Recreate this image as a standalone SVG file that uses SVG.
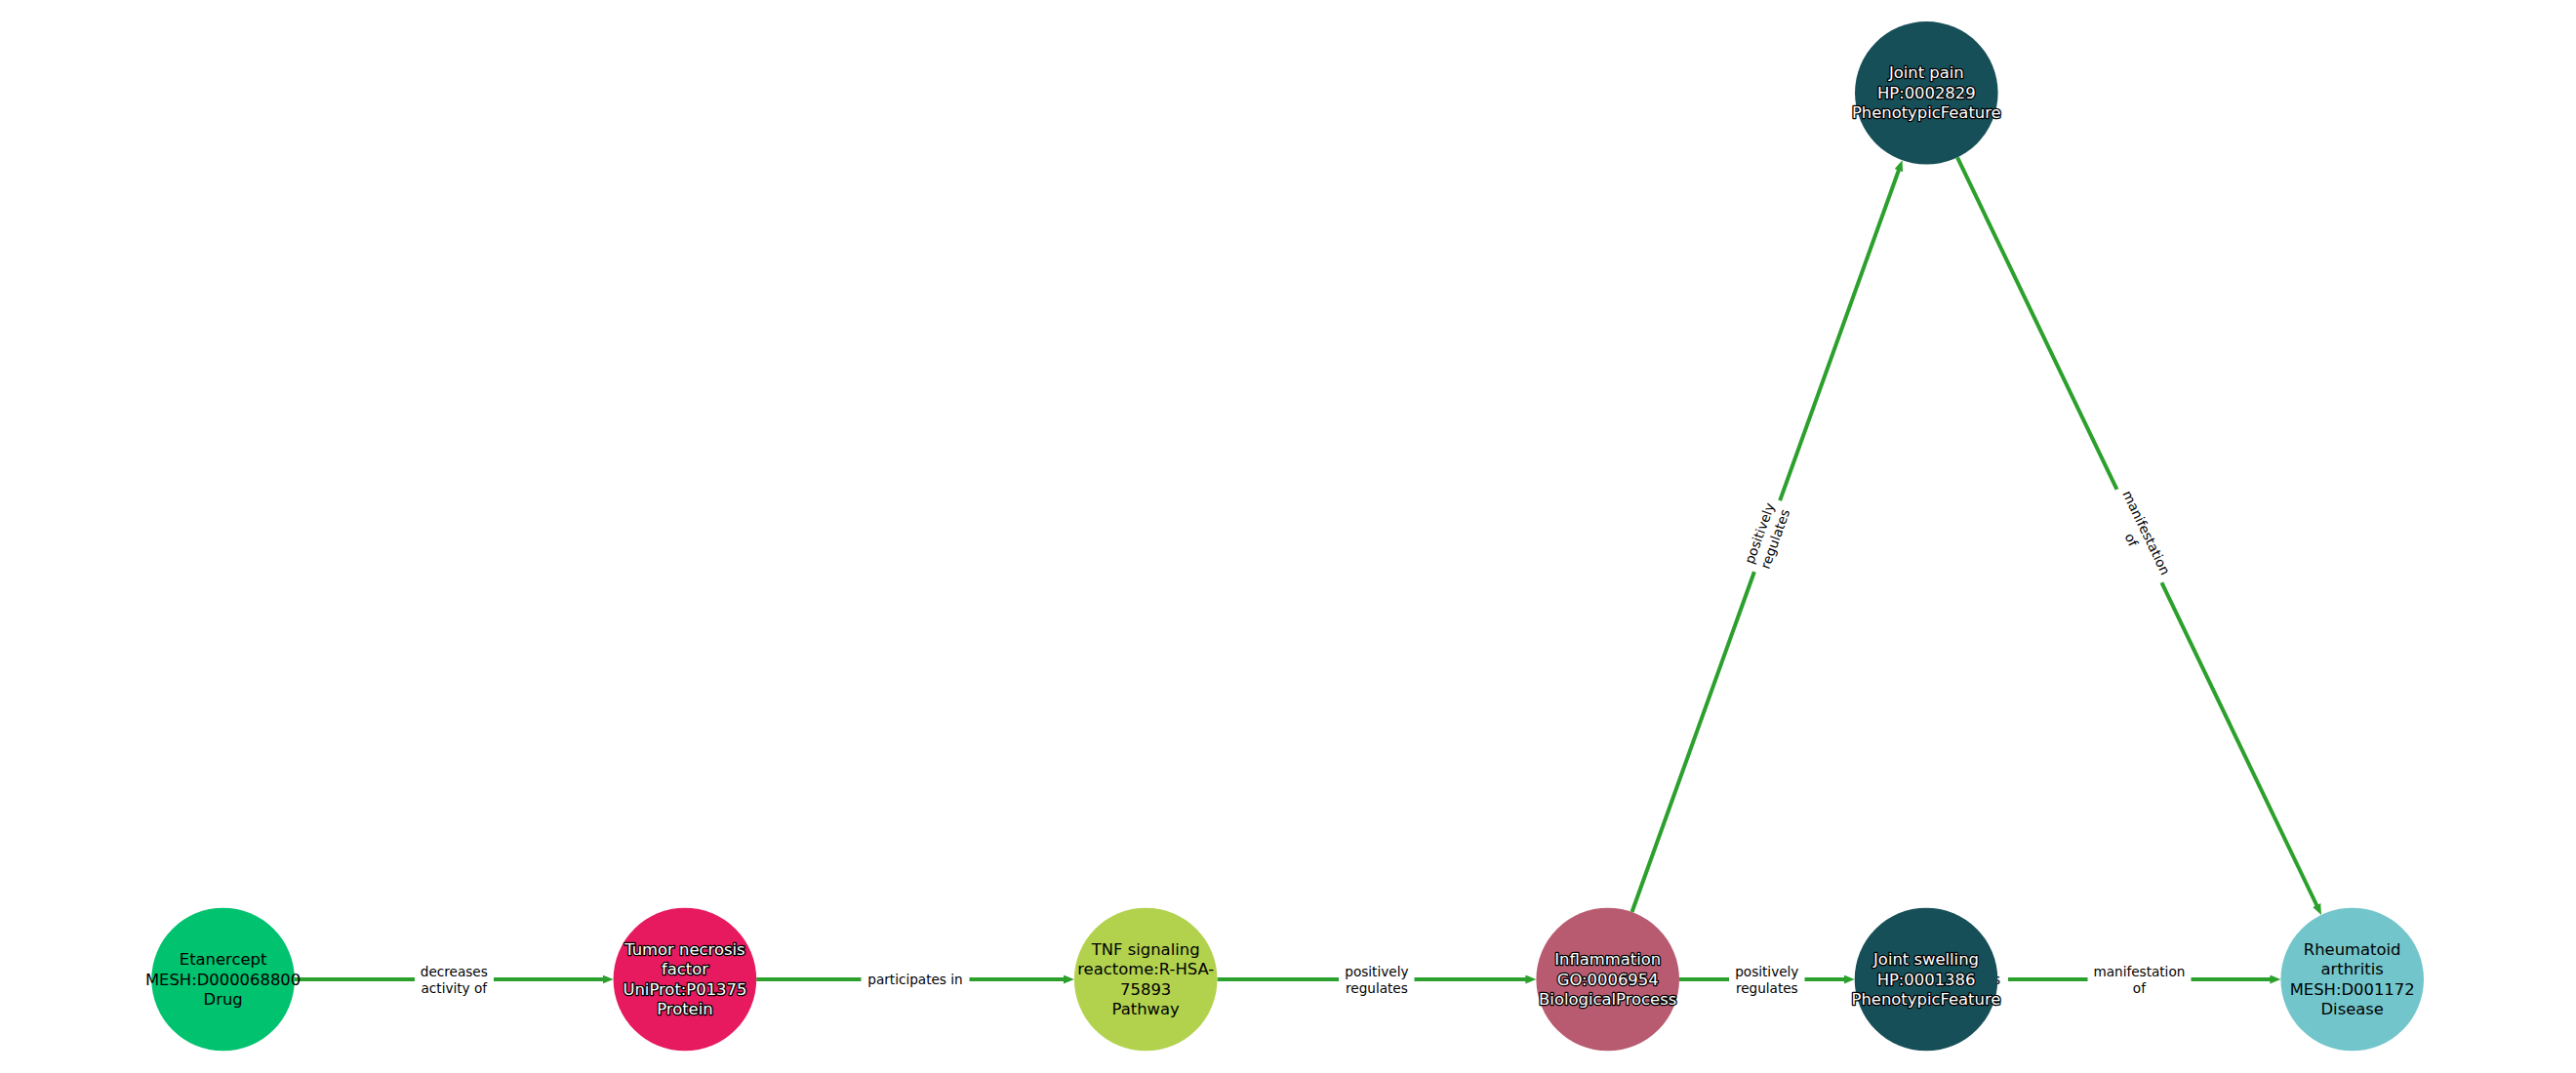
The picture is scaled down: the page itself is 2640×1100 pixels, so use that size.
<svg xmlns="http://www.w3.org/2000/svg" width="2640" height="1100" viewBox="0 0 2640 1100">
<defs>
<marker id="arr" markerUnits="userSpaceOnUse" markerWidth="12" markerHeight="10" refX="5" refY="4.5" orient="auto">
<path d="M0,0 L11,4.5 L0,9 z" fill="#2ca02c"/>
</marker>
</defs>
<style>
.edge{stroke:#2ca02c;stroke-width:4;fill:none;marker-end:url(#arr)}
.lbl{font-family:"DejaVu Sans",sans-serif;font-size:13.6px;fill:#000;text-anchor:middle;dominant-baseline:central}
.box{fill:#fff}
.nt{font-family:"DejaVu Sans",sans-serif;font-size:16.4px;text-anchor:middle;dominant-baseline:central}
.dark{fill:#000}
.light{fill:#fff;stroke:#000;stroke-width:2.6;paint-order:stroke;stroke-linejoin:round}
</style>
<rect width="2640" height="1100" fill="#fff"/>
<g id="connectors">
<line class="edge" x1="301.9" y1="1004" x2="622.6" y2="1004"/>
<line class="edge" x1="775.2" y1="1004" x2="1094.9" y2="1004"/>
<line class="edge" x1="1247.5" y1="1004" x2="1568.4" y2="1004"/>
<line class="edge" x1="1721" y1="1004" x2="1894.7" y2="1004"/>
<line class="edge" x1="2047.3" y1="1004" x2="2331.4" y2="1004"/>
<line class="edge" x1="1672.5" y1="935" x2="1947.5" y2="170"/>
<line class="edge" x1="2006" y1="161.4" x2="2376.4" y2="932.5"/>
<g id="edge-labels">
<rect class="box" x="425" y="983" width="81" height="42"/>
<text class="lbl" x="465.3" y="995.5">decreases</text>
<text class="lbl" x="465.3" y="1012.5">activity of</text>
<rect class="box" x="882.5" y="992" width="111" height="24"/>
<text class="lbl" x="938" y="1004">participates in</text>
<rect class="box" x="1372" y="983" width="77.5" height="42"/>
<text class="lbl" x="1410.9" y="995.5">positively</text>
<text class="lbl" x="1410.9" y="1012.5">regulates</text>
<rect class="box" x="1772" y="983" width="77.5" height="42"/>
<text class="lbl" x="1810.8" y="995.5">positively</text>
<text class="lbl" x="1810.8" y="1012.5">regulates</text>
<rect class="box" x="2000" y="993" width="58" height="22"/>
<text class="lbl" x="2050" y="1004" style="text-anchor:end">s</text>
<rect class="box" x="2139.5" y="983" width="106" height="42"/>
<text class="lbl" x="2192.4" y="995.5">manifestation</text>
<text class="lbl" x="2192.4" y="1012.5">of</text>
<g transform="translate(1811,549.6) rotate(-70.2)">
<rect class="box" x="-38.8" y="-21" width="77.5" height="42"/>
<text class="lbl" x="0" y="-8.5">positively</text>
<text class="lbl" x="0" y="8.5">regulates</text>
</g>
<g transform="translate(2192.2,549.6) rotate(64.35)">
<rect class="box" x="-53" y="-21" width="106" height="42"/>
<text class="lbl" x="0" y="-8.5">manifestation</text>
<text class="lbl" x="0" y="8.5">of</text>
</g>
</g>
</g>
<g id="node-etanercept">
<circle cx="228.6" cy="1004" r="73.3" fill="#00c26f"/>
<text class="nt dark" x="228.6" y="983.4">Etanercept</text>
<text class="nt dark" x="228.6" y="1004">MESH:D000068800</text>
<text class="nt dark" x="228.6" y="1024.6">Drug</text>
</g>
<g id="node-tnf-protein">
<circle cx="701.9" cy="1004" r="73.3" fill="#e7195f"/>
<text class="nt light" x="701.9" y="973.1">Tumor necrosis</text>
<text class="nt light" x="701.9" y="993.7">factor</text>
<text class="nt light" x="701.9" y="1014.3">UniProt:P01375</text>
<text class="nt light" x="701.9" y="1034.9">Protein</text>
</g>
<g id="node-tnf-pathway">
<circle cx="1174.2" cy="1004" r="73.3" fill="#b2d24e"/>
<text class="nt dark" x="1174.2" y="973.1">TNF signaling</text>
<text class="nt dark" x="1174.2" y="993.7">reactome:R-HSA-</text>
<text class="nt dark" x="1174.2" y="1014.3">75893</text>
<text class="nt dark" x="1174.2" y="1034.9">Pathway</text>
</g>
<g id="node-inflammation">
<circle cx="1647.7" cy="1004" r="73.3" fill="#b85b70"/>
<text class="nt light" x="1647.7" y="983.4">Inflammation</text>
<text class="nt light" x="1647.7" y="1004">GO:0006954</text>
<text class="nt light" x="1647.7" y="1024.6">BiologicalProcess</text>
</g>
<g id="node-joint-swelling">
<circle cx="1974" cy="1004" r="73.3" fill="#174f58"/>
<text class="nt light" x="1974" y="983.4">Joint swelling</text>
<text class="nt light" x="1974" y="1004">HP:0001386</text>
<text class="nt light" x="1974" y="1024.6">PhenotypicFeature</text>
</g>
<g id="node-rheumatoid-arthritis">
<circle cx="2410.7" cy="1004" r="73.3" fill="#72c6cb"/>
<text class="nt dark" x="2410.7" y="973.1">Rheumatoid</text>
<text class="nt dark" x="2410.7" y="993.7">arthritis</text>
<text class="nt dark" x="2410.7" y="1014.3">MESH:D001172</text>
<text class="nt dark" x="2410.7" y="1034.9">Disease</text>
</g>
<g id="node-joint-pain">
<circle cx="1974.3" cy="95.3" r="73.3" fill="#174f58"/>
<text class="nt light" x="1974.3" y="74.7">Joint pain</text>
<text class="nt light" x="1974.3" y="95.3">HP:0002829</text>
<text class="nt light" x="1974.3" y="115.9">PhenotypicFeature</text>
</g>
</svg>
